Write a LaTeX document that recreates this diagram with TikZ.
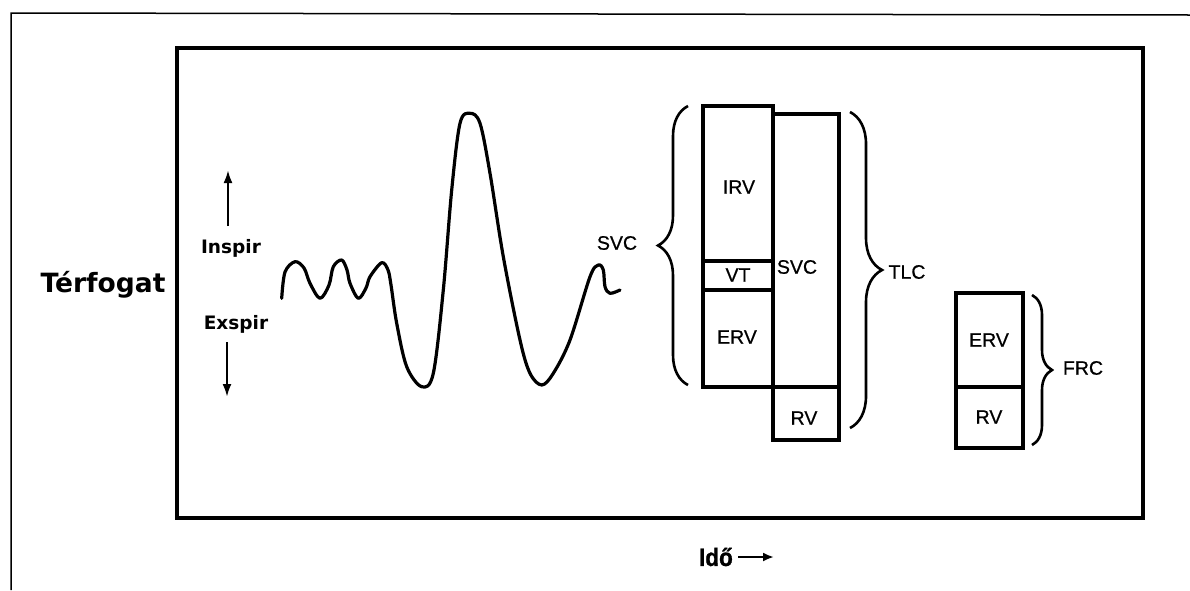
\documentclass[tikz,border=0pt]{standalone}
\usepackage{fontspec}
\setmainfont{Liberation Sans}
\newfontfamily\heavyfont{DejaVu Sans}
\newfontfamily\lblfont[FakeBold=0.6]{Liberation Sans}
\newfontfamily\idofont[FakeStretch=0.9,FakeBold=1]{Liberation Sans}
\usetikzlibrary{decorations.pathreplacing,arrows.meta}
\begin{document}
\begin{tikzpicture}[x=1pt,y=-1pt,
  framebox/.style={line width=4.5pt},
  volbox/.style={line width=3.8pt},
  lbl/.style={font=\lblfont\fontsize{19.5}{21}\selectfont, inner sep=0pt},
  bold lbl/.style={font=\heavyfont\bfseries\fontsize{18.5}{20}\selectfont, inner sep=0pt},
  brc/.style={decorate, decoration={brace, amplitude=#1, aspect=0.5}, line width=2.6pt},
  wave/.style={line width=3.2pt, line cap=round, line join=round},
  dirarrow/.style={line width=2.4pt, -{Latex[length=13pt,width=9pt]}}]
\useasboundingbox (0,0) rectangle (1190,590);
% outer frame (partially visible)
\draw[line width=1.5pt] (1190,15) -- (11,13) -- (11,590);
% inner frame
\draw[framebox] (177,48) rectangle (1143,518);

% axis label
\node[font=\heavyfont\bfseries\fontsize{26.5}{28}\selectfont, inner sep=0pt] (terf) at (103,285) {Térfogat};
\node[bold lbl] (insp) at (231,248) {Inspir};
\node[bold lbl] (exsp) at (236,324) {Exspir};
\coordinate (upA) at (228,226);
\coordinate (upB) at (228,170);
\coordinate (dnA) at (227,342);
\coordinate (dnB) at (227,397);
\draw[dirarrow] (upA) -- (upB);
\draw[dirarrow] (dnA) -- (dnB);

% spirogram
\draw[wave] plot[smooth, tension=0.55] coordinates {
 (281.7,298.3) (285,272) (295,261.7) (304,268) (310,283.3) (320,298.3) (329,285) (333.3,266.7)
 (341.7,260) (347,270) (350,283.3) (358.3,298.3) (366,288) (370,276.7) (381.7,262.7) (388,270)
 (391,285) (396.7,323.3) (406.7,366.7) (421.7,386.7) (433.3,373.3) (443.3,290) (451.7,190)
 (460,123.3) (470,113.3) (480,123.3) (490,173.3) (503.3,256.7) (520,340) (530,373.3)
 (541.7,385) (553.3,373.3) (570,340) (590,276.7) (598.3,265) (603.3,270) (605,286.7)
 (610,293.3) (620,290)};

\node[lbl] (svcl) at (617,243) {SVC};
\coordinate (b1s) at (688,385);
\coordinate (b1e) at (688,106);
\draw[brc=30pt] (b1s) -- (b1e);

% left column: IRV / VT / ERV
\draw[volbox] (703,106) rectangle (773,387);
\coordinate (irvL) at (703,261); \coordinate (irvR) at (773,261);
\coordinate (vtL) at (703,290); \coordinate (vtR) at (773,290);
\draw[volbox] (irvL) -- (irvR);
\draw[volbox] (vtL) -- (vtR);
\node[lbl] (irv) at (739,187) {IRV};
\node[lbl] (vt) at (738,275) {VT};
\node[lbl] (erv) at (737,337) {ERV};

% right column: SVC / RV
\draw[volbox] (773,114) rectangle (839,387);
\draw[volbox] (773,387) rectangle (839,440);
\node[lbl] (svc) at (797,267) {SVC};
\node[lbl] (rv) at (804,418) {RV};

\coordinate (b2s) at (850,112);
\coordinate (b2e) at (850,428);
\draw[brc=32pt] (b2s) -- (b2e);
\node[lbl] (tlc) at (907,272) {TLC};

% FRC column
\draw[volbox] (956,293) rectangle (1023,448);
\coordinate (frcL) at (956,387); \coordinate (frcR) at (1023,387);
\draw[volbox] (frcL) -- (frcR);
\node[lbl] (erv2) at (989,340) {ERV};
\node[lbl] (rv2) at (989,417) {RV};
\coordinate (b3s) at (1032,295);
\coordinate (b3e) at (1032,445);
\draw[brc=20pt] (b3s) -- (b3e);
\node[lbl] (frc) at (1083,368) {FRC};

% time axis
\node[font=\idofont\bfseries\fontsize{25}{27}\selectfont, inner sep=0pt, anchor=east] (ido) at (733,557) {Idő};
\coordinate (tEnd) at (774,557);
\draw[line width=2.2pt, -{Latex[length=11pt,width=9pt]}] ([xshift=5pt]ido.east) -- (tEnd);
\end{tikzpicture}
\end{document}
